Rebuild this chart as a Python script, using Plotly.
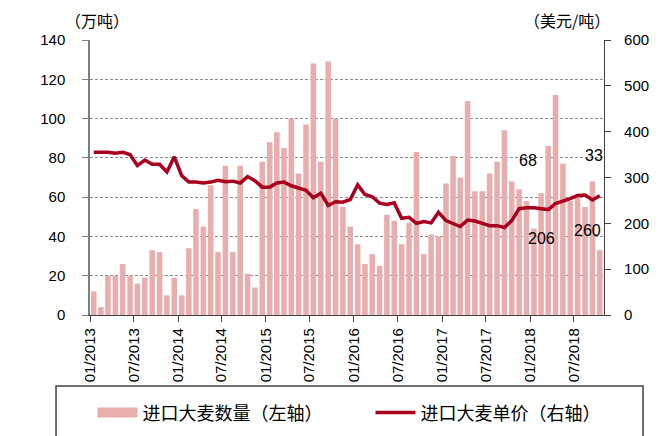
import plotly.graph_objects as go
import pandas as pd

# categories: monthly, Jan 2013 - Oct 2018
months = pd.date_range("2013-01-01", periods=70, freq="MS")

# import quantity (10k tonnes), left axis
qty = [12, 4, 20, 20, 26, 20, 16, 19, 33, 32, 10, 19,
       10, 34, 54, 45, 66, 32, 76, 32, 76, 21, 14, 78,
       88, 93, 85, 100, 72, 97, 128, 78, 129, 100, 55, 45,
       36, 26, 31, 25, 51, 48, 36, 47, 83, 31, 41, 40,
       67, 81, 70, 109, 63, 63, 72, 78, 94, 68, 64, 58,
       44, 62, 86, 112, 77, 58, 60, 55, 68, 33]

# unit price (USD/tonne), right axis
price = [355, 355, 355, 353, 355, 350, 326, 338, 329, 329, 312, 345,
         304, 290, 290, 288, 290, 294, 291, 292, 288, 302, 293, 279,
         279, 288, 290, 282, 277, 272, 256, 266, 239, 247, 246, 252,
         284, 263, 258, 244, 241, 245, 211, 213, 200, 204, 201, 224,
         206, 200, 193, 207, 205, 200, 195, 195, 191, 206, 232, 234,
         234, 232, 230, 243, 248, 254, 261, 262, 251, 260]

qty_name = "进口大麦数量（左轴）"
price_name = "进口大麦单价（右轴）"
left_unit = "（万吨）"
right_unit = "（美元/吨）"

BAR_COLOR = "#E8AEAE"
LINE_COLOR = "#A8001E"
NUM_FONT = "Liberation Sans, Arial, sans-serif"
CJK_FONT = "Noto Sans CJK SC, sans-serif"

fig = go.Figure()
fig.add_trace(go.Bar(
    x=months, y=qty, name=qty_name, marker_color=BAR_COLOR,
    marker_line_width=0, xperiod="M1", xperiodalignment="middle",
    showlegend=False, yaxis="y"))
# legend proxy for the bars (wide flat patch as in the reference)
fig.add_trace(go.Scatter(
    x=[None], y=[None], mode="lines", name=qty_name,
    line=dict(color=BAR_COLOR, width=10), yaxis="y"))
fig.add_trace(go.Scatter(
    x=months, y=price, name=price_name, mode="lines",
    line=dict(color=LINE_COLOR, width=3.5),
    xperiod="M1", xperiodalignment="middle", yaxis="y2"))

# data labels: Oct 2017 and Oct 2018
i_prev, i_last = 57, 69
ann = [
    dict(x=months[i_prev], y=qty[i_prev], text=str(qty[i_prev]), xref="x", yref="y",
         xshift=20, yshift=21),
    dict(x=months[i_last], y=qty[i_last], text=str(qty[i_last]), xref="x", yref="y",
         xshift=-2, yshift=95),
    dict(x=months[i_prev], y=price[i_prev], text=str(price[i_prev]), xref="x", yref="y2",
         xshift=33, yshift=-18),
    dict(x=months[i_last], y=price[i_last], text=str(price[i_last]), xref="x", yref="y2",
         xshift=-9, yshift=-35),
]
annotations = []
for a in ann:
    a.update(showarrow=False, xanchor="center", yanchor="middle",
             font=dict(family=NUM_FONT, size=16, color="#000"))
    annotations.append(a)
annotations.append(dict(x=-0.0525, y=1.0727, xref="paper", yref="paper", text=left_unit,
                        xanchor="left", yanchor="middle", showarrow=False,
                        font=dict(family=CJK_FONT, size=16, color="#000")))
annotations.append(dict(x=0.8405, y=1.0727, xref="paper", yref="paper", text=right_unit,
                        xanchor="left", yanchor="middle", showarrow=False,
                        font=dict(family=CJK_FONT, size=16, color="#000")))

fig.update_layout(
    width=661, height=436,
    margin=dict(l=90, r=57, t=40, b=121, autoexpand=False),
    paper_bgcolor="white", plot_bgcolor="white",
    bargap=0.22,
    showlegend=True,
    legend=dict(orientation="h", x=-0.001, y=-0.356, xanchor="left", yanchor="middle",
                indentation=3,
                font=dict(family=CJK_FONT, size=18, color="#000"),
                itemwidth=40, entrywidth=220, entrywidthmode="pixels",
                bgcolor="rgba(0,0,0,0)"),
    xaxis=dict(type="date", range=["2013-01-01", "2018-11-03"], automargin=False,
               tick0="2013-01-01", dtick="M6", tickformat="%m/%Y",
               tickangle=-90, ticks="outside", ticklen=6, tickcolor="#404040",
               showline=True, linecolor="#404040", linewidth=1.2,
               showgrid=False, zeroline=False,
               tickfont=dict(family=NUM_FONT, size=15, color="#000")),
    yaxis=dict(range=[0, 140], dtick=20, ticks="outside", ticklen=6, automargin=False,
               tickcolor="#7f7f7f", showline=True, linecolor="#7f7f7f", linewidth=1.5,
               showgrid=True, gridcolor="#8c8c8c", griddash="3px,2px", gridwidth=1,
               zeroline=False, ticklabelstandoff=14,
               tickfont=dict(family=NUM_FONT, size=15, color="#000")),
    yaxis2=dict(range=[0, 600], dtick=100, overlaying="y", side="right", automargin=False,
                ticks="outside", ticklen=6, tickcolor="#404040",
                showline=True, linecolor="#404040", linewidth=1.2,
                showgrid=False, zeroline=False, ticklabelstandoff=10,
                tickfont=dict(family=NUM_FONT, size=15, color="#000")),
    annotations=annotations,
    shapes=[dict(type="rect", xref="paper", yref="paper",
                 x0=-0.0661, x1=1.0759, y0=-0.2582, y1=-0.6,
                 line=dict(color="#404040", width=1.5), fillcolor="rgba(0,0,0,0)")],
)

fig.write_html("out.html", config={"displayModeBar": False},
               post_script="document.body.style.margin='0';")
